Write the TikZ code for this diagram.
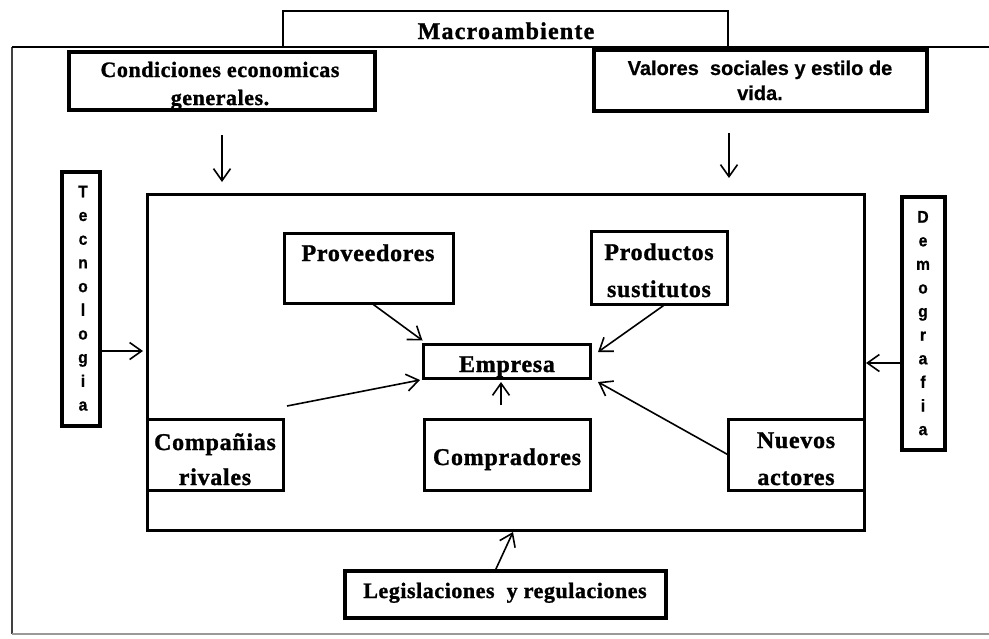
\documentclass[tikz,border=0pt]{standalone}
\usepackage{fontspec}
\setmainfont{Liberation Serif}
\newfontfamily\heavyserif[FakeBold=1.2]{Liberation Serif Bold}
\newfontfamily\heavysans[FakeBold=0.6]{Liberation Sans Bold}
\newfontfamily\narrowsans[FakeBold=0.8,FakeStretch=0.92]{Liberation Sans Bold}
\usetikzlibrary{arrows.meta,calc}

\begin{document}
\begin{tikzpicture}[x=1pt,y=-1pt,
  box/.style={draw, rectangle, inner sep=0pt, outer sep=0pt, line width=3pt},
  heavybox/.style={box, line width=4.5pt},
  lightbox/.style={box, line width=2pt},
  serifb/.style={inner sep=0pt, anchor=base,
    font=\heavyserif\fontsize{24}{28}\selectfont\addfontfeatures{LetterSpace=3}},
  seriftop/.style={serifb,
    font=\heavyserif\fontsize{22}{26}\selectfont\addfontfeatures{LetterSpace=2.5}},
  titletxt/.style={serifb,
    font=\heavyserif\fontsize{24}{28}\selectfont\addfontfeatures{LetterSpace=5}},
  sanstop/.style={inner sep=0pt, anchor=base,
    font=\heavysans\fontsize{20}{24}\selectfont},
  vletter/.style={inner sep=0pt, anchor=base,
    font=\narrowsans\fontsize{17}{20}\selectfont},
  arr/.style={line width=1.6pt, -{Straight Barb[length=12pt,width=17pt,line width=1.6pt]}}
]
\useasboundingbox (0,0) rectangle (989,638);

% outer environment frame
\draw[line width=1.8pt, black!75] (12,47) -- (12,634);
\draw[line width=1.6pt, black!40] (12,634) -- (989,634);
\draw[line width=2.6pt] (989,47) -- (12,47);

% title tab
\node[lightbox, minimum width=445pt, minimum height=36pt] (macro) at (505.5,29) {};
\node[titletxt] (macro-t) at (506,39) {Macroambiente};

% top factors
\node[heavybox, minimum width=306pt, minimum height=58pt] (econ) at (222,81) {};
\node[seriftop] (econ-1) at (220,77) {Condiciones economicas};
\node[seriftop] (econ-2) at (220,105) {generales.};

\node[heavybox, minimum width=333pt, minimum height=61pt] (soc) at (760.5,80.5) {};
\node[sanstop] (soc-1) at (760,75) {Valores\ \ sociales y estilo de};
\node[sanstop] (soc-2) at (760,100) {vida.};

% side factors
\node[heavybox, minimum width=38pt, minimum height=254pt] (tec) at (81,299) {};
\foreach \ch [count=\i from 0] in {T,e,c,n,o,l,o,g,i,a}
  \node[vletter] (tec-\i) at (83,{197.3+23.7*\i}) {\ch};

\node[heavybox, minimum width=43pt, minimum height=253pt] (dem) at (923.5,323.5) {};
\foreach \ch [count=\i from 0] in {D,e,m,o,g,r,a,f,i,a}
  \node[vletter] (dem-\i) at (923,{222.7+23.6*\i}) {\ch};

% bottom factor
\node[heavybox, minimum width=321pt, minimum height=47pt] (legis) at (505.5,594.5) {};
\node[seriftop] (legis-t) at (505,598) {Legislaciones\ \ y regulaciones};

% industry frame
\node[box, minimum width=717pt, minimum height=336pt] (ind) at (505.5,362) {};

% industry forces
\node[box, minimum width=169pt, minimum height=70pt] (prov) at (369,268.5) {};
\node[serifb] (prov-t) at (368,261) {Proveedores};

\node[box, minimum width=136pt, minimum height=73pt] (prod) at (659.5,268) {};
\node[serifb] (prod-1) at (659,260) {Productos};
\node[serifb] (prod-2) at (659,297) {sustitutos};

\node[box, minimum width=167pt, minimum height=34pt] (emp) at (507,361.5) {};
\node[serifb] (emp-t) at (507,372) {Empresa};

\node[box, minimum width=136pt, minimum height=71pt] (riv) at (215.5,455) {};
\node[serifb] (riv-1) at (215,450) {Compañias};
\node[serifb] (riv-2) at (215,485) {rivales};

\node[box, minimum width=166pt, minimum height=71pt] (comp) at (507.5,455) {};
\node[serifb] (comp-t) at (507,465) {Compradores};

\node[box, minimum width=136pt, minimum height=71pt] (nue) at (796.5,455) {};
\node[serifb] (nue-1) at (796,448) {Nuevos};
\node[serifb] (nue-2) at (796,485) {actores};

% free arrow ends
\coordinate (econ-a) at (222,135);
\coordinate (econ-b) at (222,182);
\coordinate (soc-a) at (729,133);
\coordinate (soc-b) at (729,178);
\coordinate (tec-b) at (143,351);
\coordinate (dem-b) at (866,363);

% environment influences
\draw[arr] (econ-a) -- (econ-b);
\draw[arr] (soc-a) -- (soc-b);
\draw[arr] (tec.east |- tec-b) -- (tec-b);
\draw[arr] (dem.west |- dem-b) -- (dem-b);
\draw[arr] ($(legis.north)+(-10.5,0)$) -- ($(ind.south)+(7.5,2)$);

% forces acting on the firm
\draw[arr] ($(prov.south)+(3,0)$) -- ($(emp.north west)+(-1,-4)$);
\draw[arr] ($(riv.north east)+(3.5,-13.5)$) -- ($(emp.south west)+(-3.5,1.5)$);
\draw[arr] ($(prod.south)+(5.5,0)$) -- ($(emp.north east)+(7.5,7.5)$);
\draw[arr] (nue.west) -- ($(emp.south east)+(7.5,3.5)$);
\draw[arr] ($(comp.north)+(-6.5,-14.5)$) -- ($(emp.south)+(-6,3.5)$);
\end{tikzpicture}
\end{document}
